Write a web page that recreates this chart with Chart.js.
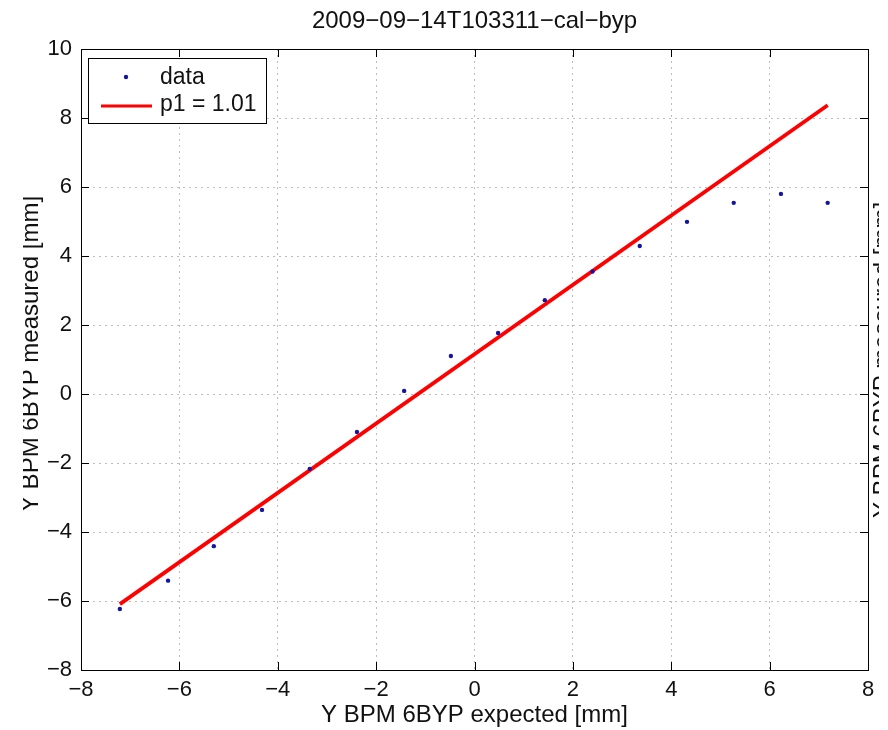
<!DOCTYPE html>
<html>
<head>
<meta charset="utf-8">
<script src="https://cdn.jsdelivr.net/npm/chart.js@4"></script>
<style>
  html, body { margin: 0; padding: 0; background: #fff; }
</style>
</head>
<body>
<canvas id="cal-byp" width="888" height="730"></canvas>
<script>
// values
const xExpected = [-7.21, -6.23, -5.30, -4.32, -3.35, -2.39, -1.43, -0.48, 0.48, 1.43, 2.40, 3.36, 4.32, 5.27, 6.23, 7.18];
const yMeasured = [-6.23, -5.41, -4.41, -3.36, -2.17, -1.10, 0.09, 1.10, 1.77, 2.72, 3.55, 4.29, 4.99, 5.54, 5.80, 5.54];
const fitX = [-7.21, 7.18];
const fitY = [-6.09, 8.37];
const xTickValues = [-8, -6, -4, -2, 0, 2, 4, 6, 8];
const yTickValues = [-8, -6, -4, -2, 0, 2, 4, 6, 8, 10];

const titleText = '2009\u221209\u221214T103311\u2212cal\u2212byp';
const xLabel = 'Y BPM 6BYP expected [mm]';
const yLabel = 'Y BPM 6BYP measured [mm]';

const FONT = '"Liberation Sans", Arial, Helvetica, sans-serif';
const tickSize = 22;
const labelSize = 24;
const legendSize = 23;

function minusLabel(v) {
  return String(v).replace('-', '\u2212');
}

// rotated label, clipped to [clipL, clipR] like the cropped screenshot
function sideLabel(ctx, text, bx, cy, clipL, clipR) {
  ctx.save();
  ctx.beginPath();
  ctx.rect(clipL, 0, clipR - clipL, 730);
  ctx.clip();
  ctx.translate(bx, cy);
  ctx.rotate(-Math.PI / 2);
  ctx.textAlign = 'center';
  ctx.textBaseline = 'alphabetic';
  ctx.fillText(text, 0, 0);
  ctx.restore();
}

const frame = {
  id: 'frame',
  afterDraw(chart) {
    const {ctx, chartArea: a, scales: {x, y}} = chart;
    ctx.save();
    ctx.strokeStyle = '#000';
    ctx.lineWidth = 1;
    ctx.strokeRect(a.left + 0.5, a.top + 0.5, a.right - a.left, a.bottom - a.top);

    // inward ticks on all four sides
    const len = 8;
    ctx.beginPath();
    xTickValues.forEach(v => {
      const px = Math.round(x.getPixelForValue(v)) + 0.5;
      ctx.moveTo(px, a.bottom); ctx.lineTo(px, a.bottom - len);
      ctx.moveTo(px, a.top); ctx.lineTo(px, a.top + len);
    });
    yTickValues.forEach(v => {
      const py = Math.round(y.getPixelForValue(v)) + 0.5;
      ctx.moveTo(a.left, py); ctx.lineTo(a.left + len, py);
      ctx.moveTo(a.right, py); ctx.lineTo(a.right - len, py);
    });
    ctx.stroke();

    // title
    ctx.fillStyle = '#111';
    ctx.font = labelSize + 'px ' + FONT;
    ctx.textAlign = 'center';
    ctx.textBaseline = 'middle';
    ctx.fillText(titleText, (a.left + a.right) / 2, 21);

    // y axis label and the neighbouring plot's label cut by the edge
    sideLabel(ctx, yLabel, 38, 354, 23, 60);
    sideLabel(ctx, yLabel, 890, 360, 872, 879);

    // legend
    const lx = 88, ly = 58, lw = 178, lh = 65;
    ctx.fillStyle = '#fff';
    ctx.fillRect(lx, ly, lw, lh);
    ctx.strokeRect(lx + 0.5, ly + 0.5, lw, lh);
    const ds = chart.data.datasets;
    ctx.fillStyle = ds[0].backgroundColor;
    ctx.beginPath();
    ctx.arc(126, 77, 2.2, 0, Math.PI * 2);
    ctx.fill();
    ctx.strokeStyle = ds[1].borderColor;
    ctx.lineWidth = 3;
    ctx.beginPath();
    ctx.moveTo(101, 106); ctx.lineTo(152, 106);
    ctx.stroke();
    ctx.fillStyle = '#111';
    ctx.font = legendSize + 'px ' + FONT;
    ctx.textAlign = 'left';
    ctx.textBaseline = 'middle';
    ctx.fillText(ds[0].label, 160, 78);
    ctx.fillText(ds[1].label, 160, 105);

    ctx.restore();
  }
};

new Chart(document.getElementById('cal-byp'), {
  type: 'scatter',
  data: {
    datasets: [
      {
        label: 'data',
        data: xExpected.map((v, i) => ({x: v, y: yMeasured[i]})),
        backgroundColor: '#1414a0',
        borderColor: '#1414a0',
        pointRadius: 2.2,
        pointBorderWidth: 0,
      },
      {
        label: 'p1 = 1.01',
        data: fitX.map((v, i) => ({x: v, y: fitY[i]})),
        showLine: true,
        borderColor: '#ff0000',
        borderWidth: 3.8,
        pointRadius: 0,
      },
    ],
  },
  options: {
    responsive: false,
    animation: false,
    layout: {padding: {left: 0, right: 20, top: 49, bottom: 0}},
    plugins: {
      legend: {display: false},
      title: {display: false},
      tooltip: {enabled: false},
    },
    scales: {
      x: {
        min: -8,
        max: 8,
        afterBuildTicks: s => { s.ticks = xTickValues.map(v => ({value: v})); },
        afterFit: s => { s.height = 60; },
        border: {display: false, dash: [2, 4]},
        grid: {color: '#bdbdbd', drawTicks: false},
        ticks: {
          color: '#111',
          padding: 7,
          maxRotation: 0,
          font: {family: FONT, size: tickSize},
          callback: v => minusLabel(v),
        },
        title: {
          display: true,
          text: xLabel,
          color: '#111',
          padding: {top: 0, bottom: 0},
          font: {family: FONT, size: labelSize},
        },
      },
      y: {
        min: -8,
        max: 10,
        afterBuildTicks: s => { s.ticks = yTickValues.map(v => ({value: v})); },
        afterFit: s => { s.width = 81; },
        border: {display: false, dash: [2, 4]},
        grid: {color: '#bdbdbd', drawTicks: false},
        ticks: {
          color: '#111',
          padding: 9,
          font: {family: FONT, size: tickSize},
          callback: v => minusLabel(v),
        },
      },
    },
  },
  plugins: [frame],
});
</script>
</body>
</html>
